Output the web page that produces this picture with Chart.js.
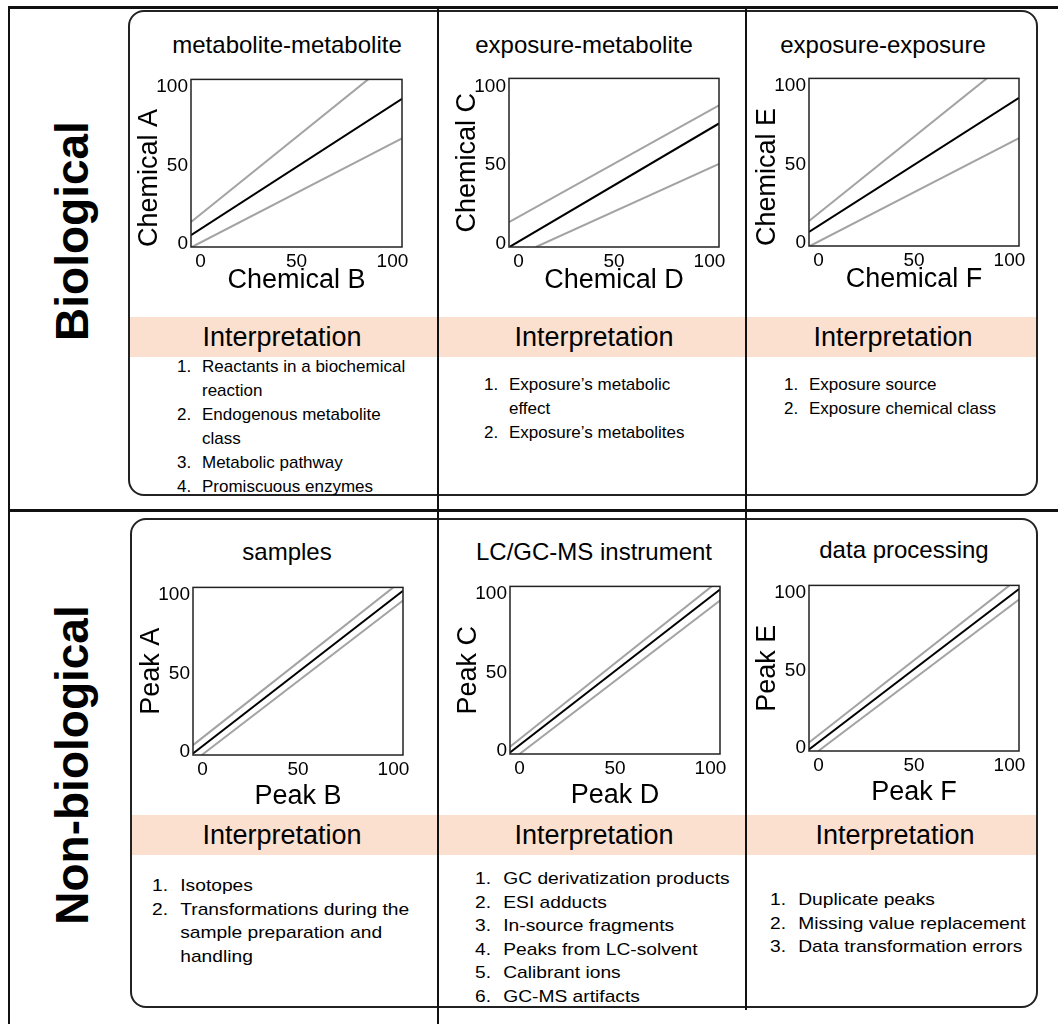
<!DOCTYPE html>
<html>
<head>
<meta charset="utf-8">
<script src="https://cdn.jsdelivr.net/npm/chart.js@4.4.1/dist/chart.umd.min.js"></script>
<style>
  body { margin: 0; background: #fff; font-family: "Liberation Sans", Arial, sans-serif; color: #000; }
  #fig { position: relative; width: 1058px; height: 1024px; overflow: hidden; }
  .line { position: absolute; background: #111; }
  .box { position: absolute; border: 2px solid #222; border-radius: 16px; box-sizing: border-box; }
  .band { position: absolute; background: #fbdfcf; }
  .ptitle { position: absolute; font-size: 24px; line-height: 28px; white-space: nowrap; transform: translate(-50%, -50%); }
  .interp { position: absolute; font-size: 27px; line-height: 32px; white-space: nowrap; transform: translate(-50%, -50%); }
  .list { position: absolute; font-size: 17px; line-height: 24px; white-space: nowrap; transform-origin: 0 0; }
  .list div { position: relative; padding-left: 25px; }
  .list span { position: absolute; left: 0; }
  .side { position: absolute; font-weight: bold; font-size: 46px; line-height: 50px; white-space: nowrap; transform: translate(-50%, -50%) rotate(-90deg); }
  canvas { position: absolute; }
</style>
</head>
<body>
<div id="fig"></div>
<script>
// panel labels
const rowLabels = ['Biological', 'Non-biological'];
const panelTitles = ['metabolite-metabolite', 'exposure-metabolite', 'exposure-exposure',
                     'samples', 'LC/GC-MS instrument', 'data processing'];
const xTitles = ['Chemical B', 'Chemical D', 'Chemical F', 'Peak B', 'Peak D', 'Peak F'];
const yTitles = ['Chemical A', 'Chemical C', 'Chemical E', 'Peak A', 'Peak C', 'Peak E'];
const tickValues = [0, 50, 100];

// line end points: [x0, y0, x1, y1]
const fitLines = [
  [-5, 5.5, 105, 92.6], [-4.5, -1.8, 105, 76.4], [-5, 7.0, 105, 92.6],
  [-5, -1, 105, 102.9], [-5, -1, 105, 103], [-5, -1, 105, 102.6]
];
const upperLines = [
  [-5, 13.9, 87.3, 105], [-5, 13.8, 105, 87.9], [-5, 13.9, 88.1, 105],
  [-5, 4.3, 99.9, 105], [-5, 2.6, 100.6, 105], [-5, 3.5, 100, 105]
];
const lowerLines = [
  [-4.5, -2, 105, 67.4], [9.1, -2, 105, 50.8], [-4.5, -2, 105, 66.8],
  [-0.4, -2, 105, 96.6], [0, -2, 105, 96.0], [-0.1, -2, 105, 95.9]
];

const interpItems = [
  ['Reactants in a biochemical\nreaction', 'Endogenous metabolite\nclass', 'Metabolic pathway', 'Promiscuous enzymes'],
  ['Exposure’s metabolic\neffect', 'Exposure’s metabolites'],
  ['Exposure source', 'Exposure chemical class'],
  ['Isotopes', 'Transformations during the\nsample preparation and\nhandling'],
  ['GC derivatization products', 'ESI adducts', 'In-source fragments', 'Peaks from LC-solvent', 'Calibrant ions', 'GC-MS artifacts'],
  ['Duplicate peaks', 'Missing value replacement', 'Data transformation errors']
];

// layout
const plotRects = [
  [191, 77, 211, 170], [509, 76, 210, 171], [809, 76, 210, 170],
  [193, 585, 210, 170], [510, 584, 210, 170], [809, 583, 210, 168]
];
const yTitleAlign = ['start', 'center', 'start', 'center', 'center', 'center'];
const titlePos = [[287, 45], [584, 45], [883, 45], [287, 552], [594, 552], [904, 550]];
const interpPos = [[282, 337], [594, 337], [893, 337], [282, 835], [594, 835], [895, 835]];
const listPos = [[177, 355, 1, 24], [484, 373, 1, 24], [784, 373, 1, 24],
                 [152, 874, 1.13, 23.5], [475, 867, 1.13, 23.5], [770, 888, 1.13, 23.5]];

const fig = document.getElementById('fig');

function add(cls, css, text) {
  const el = document.createElement('div');
  el.className = cls;
  Object.assign(el.style, css);
  if (text !== undefined) el.textContent = text;
  fig.appendChild(el);
  return el;
}

// boxes and bands
add('box', { left: '128px', top: '10px', width: '910px', height: '486px' });
add('box', { left: '130px', top: '518px', width: '908px', height: '490px' });
add('band', { left: '130px', top: '317px', width: '906px', height: '40px' });
add('band', { left: '132px', top: '815px', width: '904px', height: '40px' });

// frame lines
add('line', { left: '9px', top: '6px', width: '1049px', height: '3px' });
add('line', { left: '8px', top: '6px', width: '2px', height: '1018px' });
add('line', { left: '9px', top: '509px', width: '1049px', height: '3px' });
add('line', { left: '437px', top: '7px', width: '2px', height: '1017px' });
add('line', { left: '745px', top: '7px', width: '2px', height: '1003px' });

add('side', { left: '72px', top: '231px' }, rowLabels[0]);
add('side', { left: '72px', top: '765px' }, rowLabels[1]);

panelTitles.forEach((t, i) => add('ptitle', { left: titlePos[i][0] + 'px', top: titlePos[i][1] + 'px' }, t));
interpPos.forEach(p => add('interp', { left: p[0] + 'px', top: p[1] + 'px' }, 'Interpretation'));

interpItems.forEach((items, i) => {
  const [x, y, sx, lh] = listPos[i];
  const list = add('list', { left: x + 'px', top: y + 'px', transform: `scaleX(${sx})`, lineHeight: lh + 'px' });
  items.forEach((txt, k) => {
    const row = document.createElement('div');
    const num = document.createElement('span');
    num.textContent = (k + 1) + '.';
    row.appendChild(num);
    txt.split('\n').forEach((part, j) => {
      if (j > 0) row.appendChild(document.createElement('br'));
      row.appendChild(document.createTextNode(part));
    });
    list.appendChild(row);
  });
});

const frame = {
  id: 'frame',
  afterDatasetsDraw(chart) {
    const { ctx, chartArea: a } = chart;
    ctx.save();
    ctx.strokeStyle = '#222';
    ctx.lineWidth = 1.5;
    ctx.strokeRect(a.left, a.top, a.right - a.left, a.bottom - a.top);
    ctx.restore();
  }
};

function seg(s) {
  return [{ x: s[0], y: s[1] }, { x: s[2], y: s[3] }];
}

function drawPanel(i) {
  const [px, py, pw, ph] = plotRects[i];
  const lowRow = i >= 3;
  const canvas = document.createElement('canvas');
  canvas.width = 61 + pw + 14;
  canvas.height = 12 + ph + 62;
  canvas.style.left = (px - 61) + 'px';
  canvas.style.top = (py - 12) + 'px';
  fig.appendChild(canvas);

  const axisCommon = {
    type: 'linear',
    afterBuildTicks: a => { a.ticks = tickValues.map(v => ({ value: v })); },
    grid: { display: false, drawTicks: false },
    border: { display: false },
    ticks: { color: '#000', font: { size: 19 }, padding: 3, maxRotation: 0, autoSkip: false }
  };

  new Chart(canvas.getContext('2d'), {
    type: 'line',
    data: {
      datasets: [
        { data: seg(fitLines[i]), borderColor: '#000', borderWidth: 2 },
        { data: seg(upperLines[i]), borderColor: '#a3a3a3', borderWidth: 2 },
        { data: seg(lowerLines[i]), borderColor: '#a3a3a3', borderWidth: 2 }
      ]
    },
    options: {
      responsive: false,
      animation: false,
      layout: { padding: { top: 12, right: 14, left: 0, bottom: 0 } },
      elements: { point: { radius: 0 }, line: { tension: 0 } },
      plugins: { legend: { display: false }, tooltip: { enabled: false } },
      scales: {
        x: Object.assign({}, axisCommon, {
          min: -5, max: 105,
          title: { display: true, text: xTitles[i], color: '#000', font: { size: 27 },
                   padding: { top: 0, bottom: lowRow ? 4 : 12 } },
          afterFit: a => { a.height = 62; }
        }),
        y: Object.assign({}, axisCommon, {
          min: -2, max: 105,
          title: { display: true, text: yTitles[i], align: yTitleAlign[i], color: '#000', font: { size: 27 },
                   padding: { top: 3, bottom: 0 } },
          afterFit: a => { a.width = 61; }
        })
      }
    },
    plugins: [frame]
  });
}

for (let i = 0; i < 6; i++) drawPanel(i);
</script>
</body>
</html>
